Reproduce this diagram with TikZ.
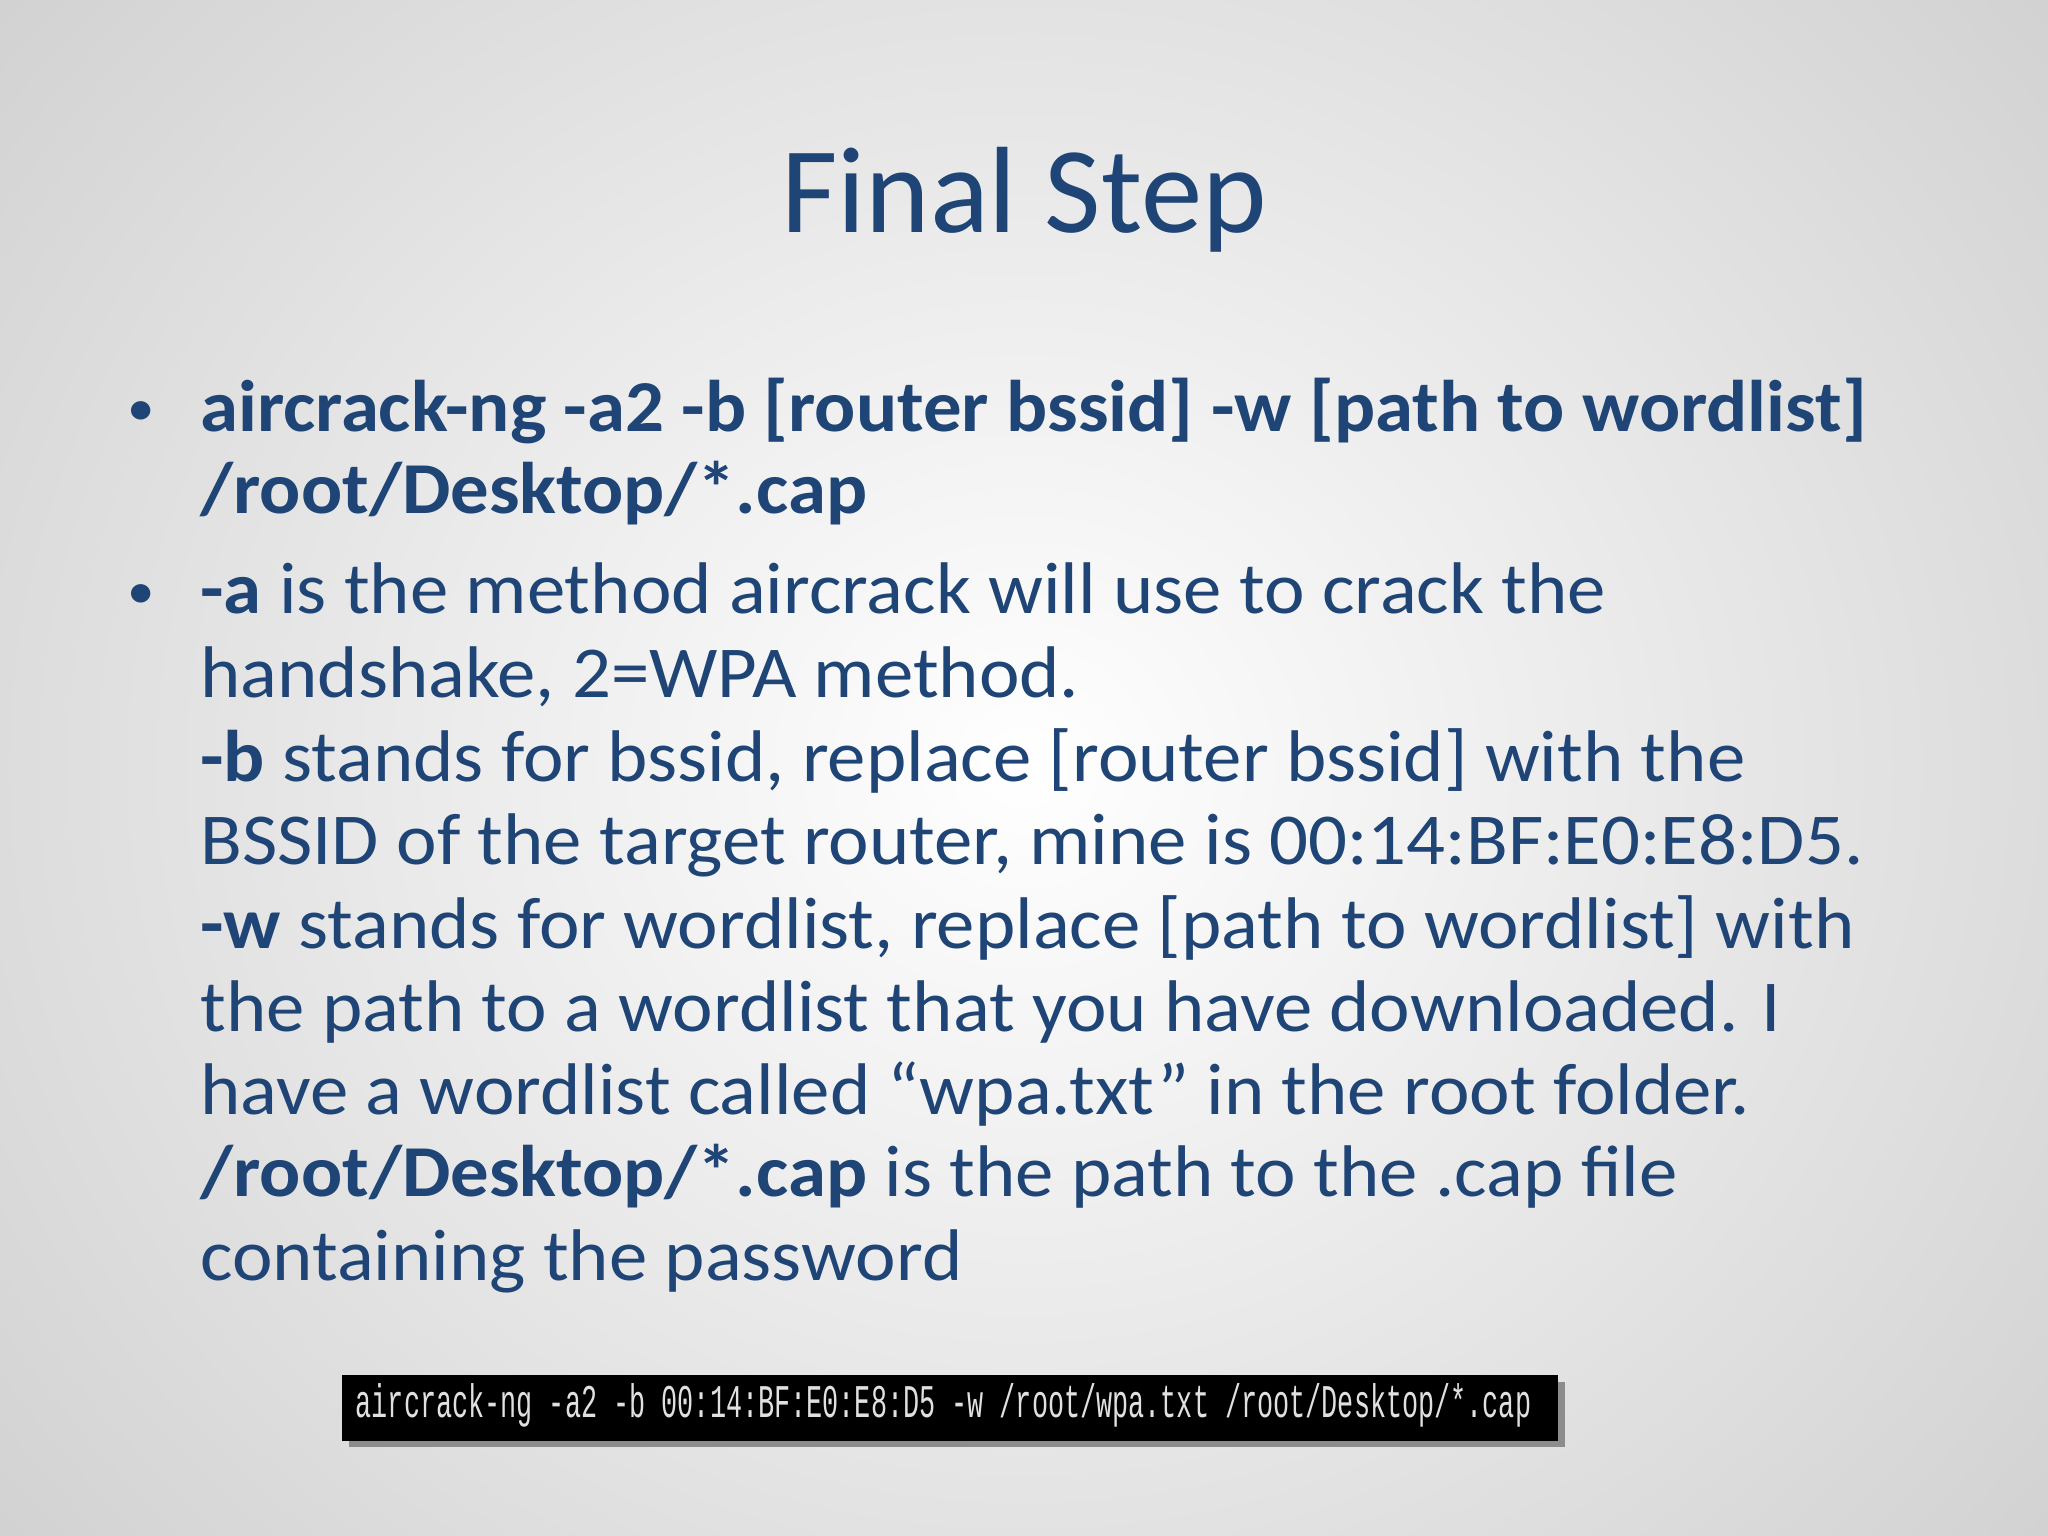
\documentclass[tikz,border=0pt]{standalone}
\usepackage{fontspec}
\setmainfont{Carlito}[FakeStretch=1.05]
\newfontfamily\titlefont{Carlito}
\newfontfamily\termfont{Liberation Mono}
\definecolor{tblue}{HTML}{1F4476}
\begin{document}
\begin{tikzpicture}[x=0.5pt,y=-0.5pt,
  ln/.style={anchor=base west,inner sep=0,text=tblue,font=\fontsize{28}{32}\selectfont},
  bul/.style={anchor=base west,inner sep=0,text=tblue,font=\fontsize{20}{32}\selectfont}]
\useasboundingbox (0,0) rectangle (1568,1176);
\shade[inner color=white,outer color=black!18] (-250,-350) rectangle (1818,1526);
\node[anchor=base,inner sep=0,text=tblue,font=\titlefont\fontsize{47}{54}\selectfont] (title) at (784,178) {Final Step};
\node[bul] (b1) at (97,326) {•};
\node[bul] (b2) at (97,466) {•};
\node[ln] (l1) at (153,330) {\textbf{aircrack-ng -a2 -b [router bssid] -w [path to wordlist]}};
\node[ln] (l2) at (153,393) {\textbf{/root/Desktop/*.cap}};
\node[ln] (l3) at (153,470) {\textbf{-a} is the method aircrack will use to crack the};
\node[ln] (l4) at (153,534) {handshake, 2=WPA method.};
\node[ln] (l5) at (153,598) {\textbf{-b} stands for bssid, replace [router bssid] with the};
\node[ln] (l6) at (153,662) {BSSID of the target router, mine is 00:14:BF:E0:E8:D5.};
\node[ln] (l7) at (153,726) {\textbf{-w} stands for wordlist, replace [path to wordlist] with};
\node[ln] (l8) at (153,790) {the path to a wordlist that you have downloaded. I};
\node[ln] (l9) at (153,853) {have a wordlist called “wpa.txt” in the root folder.};
\node[ln] (l10) at (153,916) {\textbf{/root/Desktop/*.cap} is the path to the .cap file};
\node[ln] (l11) at (153,980) {containing the password};
\fill[black!45] (267,1058) rectangle (1198,1108);
\fill[black] (262,1053) rectangle (1193,1103);
\node[anchor=west,inner sep=0,text=black!12] (term) at (272,1076)
  {\resizebox{450pt}{13pt}{\termfont aircrack-ng -a2 -b 00:14:BF:E0:E8:D5 -w /root/wpa.txt /root/Desktop/*.cap}};
\end{tikzpicture}
\end{document}
